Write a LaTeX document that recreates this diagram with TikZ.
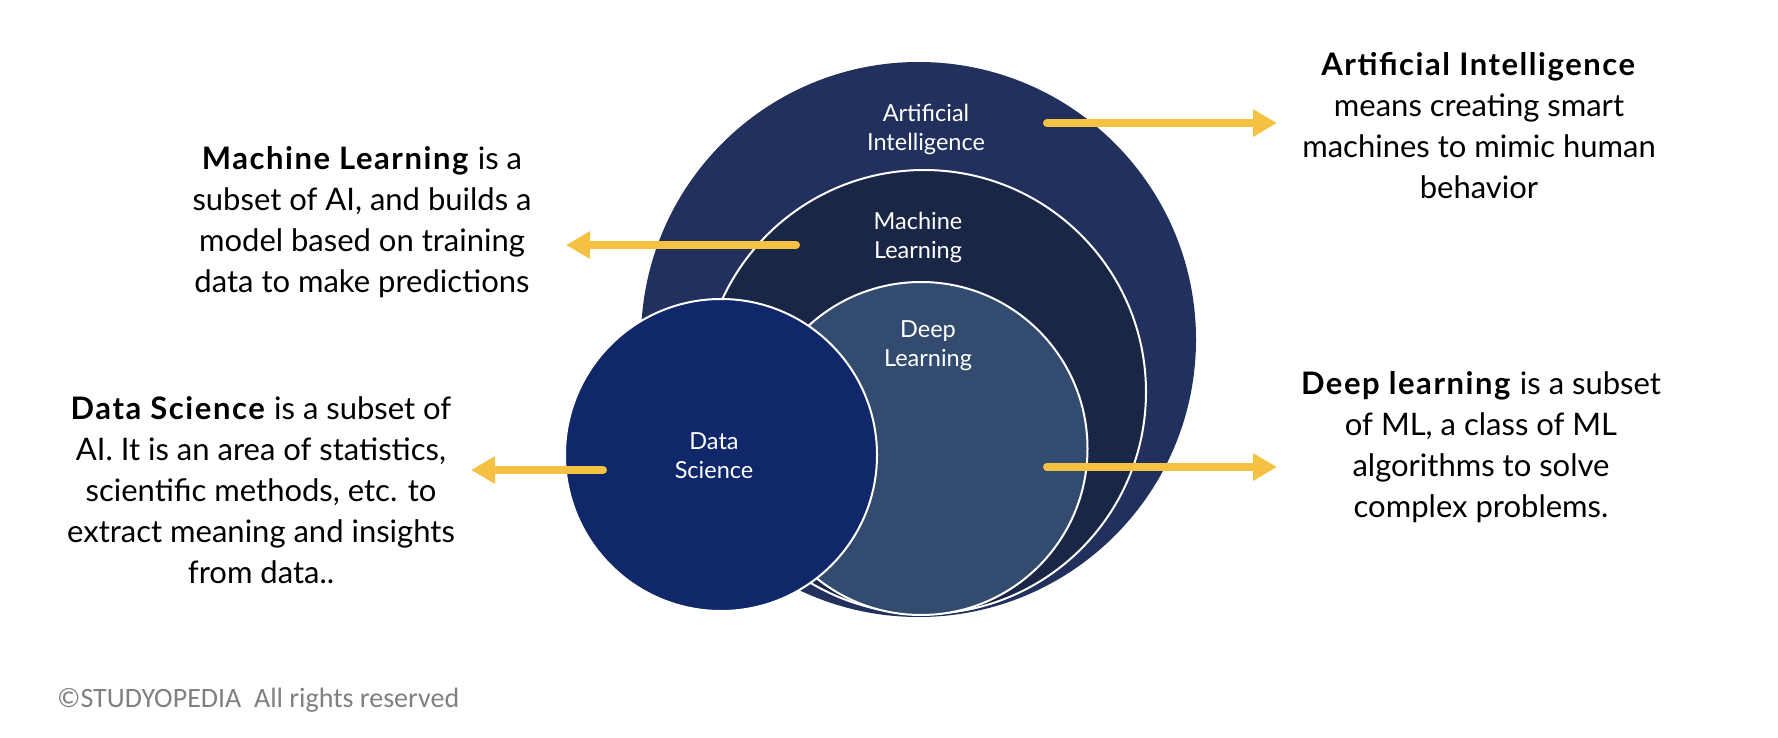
\documentclass[tikz,border=0pt]{standalone}
\usepackage{fontspec}
\setmainfont{Lato}[BoldFeatures={LetterSpace=5}]
\newfontfamily\markfont{Carlito}
\usetikzlibrary{arrows.meta}

\definecolor{aiblue}{RGB}{33,48,92}
\definecolor{mlblue}{RGB}{26,38,70}
\definecolor{dlblue}{RGB}{50,75,110}
\definecolor{dsblue}{RGB}{16,40,105}
\definecolor{pointeryellow}{RGB}{244,193,66}
\definecolor{markgrey}{RGB}{128,128,128}

\begin{document}
\begin{tikzpicture}[x=1pt,y=-1pt,
  ring/.style={circle, inner sep=0pt, draw=white, line width=2pt},
  ringlabel/.style={text=white, align=center, inner sep=0pt,
    font=\fontsize{23.5}{29}\selectfont},
  blurb/.style={align=center, anchor=north, inner sep=0pt, text=black,
    font=\fontsize{31}{41}\selectfont},
  pointer/.style={draw=pointeryellow, line width=8pt, line cap=round,
    -{Triangle[length=24pt,width=26pt]}}
]
\useasboundingbox (0,0) rectangle (1778,738);

% nested circles
\node[ring, draw=none, fill=aiblue, minimum size=555pt] (ai) at (918.5,339.5) {};
\node[ring, fill=mlblue, minimum size=444pt] (ml) at (924,392) {};
\node[ring, fill=dlblue, minimum size=333pt] (dl) at (921,448.5) {};
\node[ring, fill=dsblue, minimum size=312pt] (ds) at (721,455) {};

% circle labels
\node[ringlabel] (ailabel) at (926,129) {Artificial\\Intelligence};
\node[ringlabel] (mllabel) at (918,237) {Machine\\Learning};
\node[ringlabel] (dllabel) at (928,346) {Deep\\Learning};
\node[ringlabel] (dslabel) at (714,456) {Data\\Science};

% descriptions
\node[blurb] (aitext) at (1479,52) {\textbf{Artificial Intelligence}\\means creating smart\\machines to mimic human\\behavior};
\node[blurb] (mltext) at (362,146) {\textbf{Machine Learning} is a\\subset of AI, and builds a\\model based on training\\data to make predictions};
\node[blurb] (dstext) at (261,396) {\textbf{Data Science} is a subset of\\AI. It is an area of statistics,\\scientific methods, etc. to\\extract meaning and insights\\from data..};
\node[blurb] (dltext) at (1481,371) {\textbf{Deep learning} is a subset\\of ML, a class of ML\\algorithms to solve\\complex problems.};

% pointers
\coordinate (aistart) at (1047,123);
\coordinate (aiend) at (1277,123);
\coordinate (mlstart) at (796,245);
\coordinate (mlend) at (566,245);
\coordinate (dsstart) at (603,470);
\coordinate (dsend) at (471,470);
\coordinate (dlstart) at (1047,467);
\coordinate (dlend) at (1277,467);
\draw[pointer] (aistart) -- (aiend);
\draw[pointer] (mlstart) -- (mlend);
\draw[pointer] (dsstart) -- (dsend);
\draw[pointer] (dlstart) -- (dlend);

% footer
\node[anchor=west, inner sep=0pt, text=markgrey,
  font=\markfont\fontsize{28}{32}\selectfont] (mark) at (57,700)
  {©STUDYOPEDIA\ \ All rights reserved};
\end{tikzpicture}
\end{document}
